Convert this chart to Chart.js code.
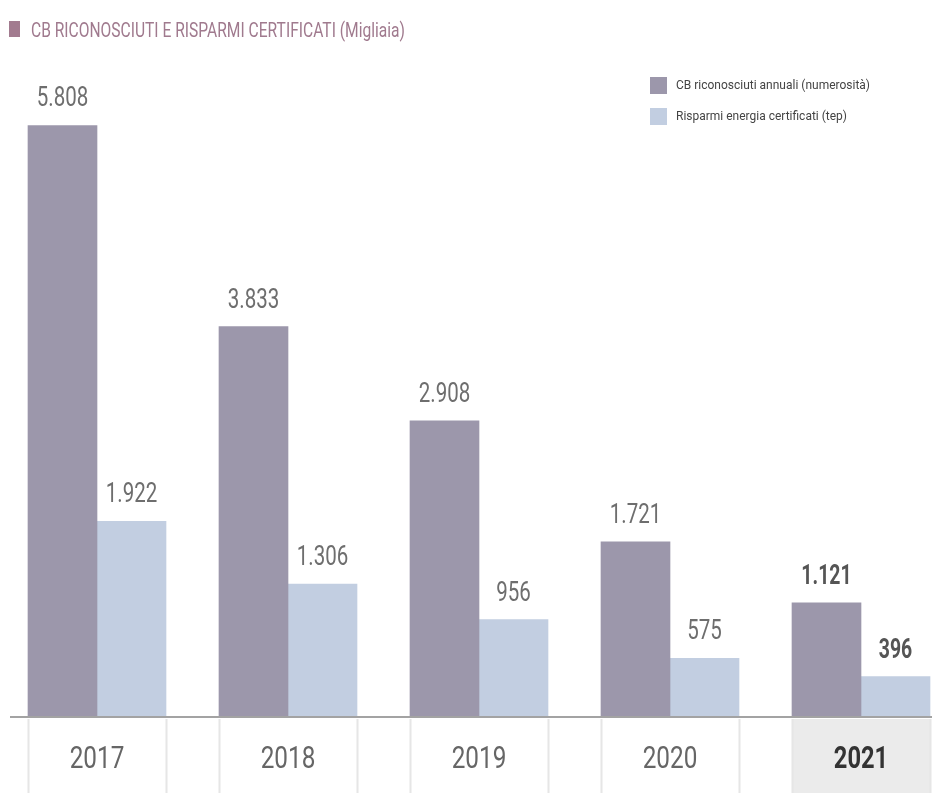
<!DOCTYPE html>
<html>
<head>
<meta charset="utf-8">
<script src="https://cdn.jsdelivr.net/npm/chart.js@4/dist/chart.umd.min.js"></script>
<style>
  html, body { margin: 0; padding: 0; background: #ffffff; overflow: hidden; }
  #wrap { position: relative; width: 932px; height: 793px; }
</style>
</head>
<body>
<div id="wrap"><canvas id="c"></canvas></div>
<script>
// ---- data ----
const titleText = 'CB RICONOSCIUTI E RISPARMI CERTIFICATI (Migliaia)';
const years = ['2017', '2018', '2019', '2020', '2021'];
const seriesNames = ['CB riconosciuti annuali (numerosità)', 'Risparmi energia certificati (tep)'];
const cbRiconosciuti = [5808, 3833, 2908, 1721, 1121];
const risparmiCertificati = [1922, 1306, 956, 575, 396];
const highlightYear = '2021';

// ---- styles ----
const FONT = 'Roboto, "Liberation Sans", sans-serif';
const purple = '#9c97ab';
const blue = '#c2cee1';
const SX = 0.76; // horizontal condensing to mimic a condensed typeface

function fmt(v) {
  const s = String(Math.round(v));
  return s.replace(/\B(?=(\d{3})+(?!\d))/g, '.');
}

// draw text horizontally condensed by sx; align: 'left' | 'center'
function condensed(ctx, text, x, y, sx, align) {
  ctx.save();
  ctx.translate(x, y);
  ctx.scale(sx, 1);
  ctx.textAlign = align;
  ctx.fillText(text, 0, 0);
  ctx.restore();
}

const decorPlugin = {
  id: 'decor',
  beforeDatasetsDraw(chart) {
    const ctx = chart.ctx;
    const x = chart.scales.x;
    const base = chart.chartArea.bottom;
    const half = 69;
    ctx.save();
    years.forEach((y, i) => {
      const cx = x.getPixelForValue(i);
      const l = cx - half, r = cx + half;
      if (y === highlightYear) {
        ctx.fillStyle = '#ebebeb';
        ctx.fillRect(l, base + 2, r - l, chart.height - base - 2);
      }
      ctx.strokeStyle = '#e6e6e6';
      ctx.lineWidth = 2;
      ctx.beginPath();
      ctx.moveTo(l + 0.5, base + 2); ctx.lineTo(l + 0.5, chart.height);
      ctx.moveTo(r + 0.5, base + 2); ctx.lineTo(r + 0.5, chart.height);
      ctx.stroke();
      const bold = y === highlightYear;
      ctx.font = (bold ? 'bold ' : '') + '32px ' + FONT;
      ctx.fillStyle = bold ? '#333333' : '#666666';
      ctx.textBaseline = 'alphabetic';
      condensed(ctx, y, cx, 768, bold ? 0.74 : SX, 'center');
    });
    ctx.restore();
  },
  afterDatasetsDraw(chart) {
    const ctx = chart.ctx;
    const base = chart.chartArea.bottom;
    ctx.save();
    // axis line
    ctx.strokeStyle = '#a3a3a3';
    ctx.lineWidth = 2;
    ctx.beginPath();
    ctx.moveTo(10, base); ctx.lineTo(chart.width, base);
    ctx.stroke();
    // value labels
    chart.data.datasets.forEach((ds, di) => {
      const meta = chart.getDatasetMeta(di);
      meta.data.forEach((el, i) => {
        const bold = years[i] === highlightYear;
        ctx.font = (bold ? 'bold ' : '') + '27px ' + FONT;
        ctx.fillStyle = bold ? '#555555' : '#6e6e6e';
        ctx.textBaseline = 'alphabetic';
        condensed(ctx, fmt(ds.data[i]), el.x, el.y - 19, bold ? 0.72 : SX, 'center');
      });
    });
    // title
    ctx.fillStyle = '#a27b8f';
    ctx.fillRect(9, 21, 11, 16);
    ctx.font = '21px ' + FONT;
    ctx.fillStyle = '#a07a8e';
    ctx.textBaseline = 'alphabetic';
    const tw = ctx.measureText(titleText).width;
    condensed(ctx, titleText, 31, 37, 374 / tw, 'left');
    // legend
    ctx.font = '13px ' + FONT;
    const lw = ctx.measureText(seriesNames[0]).width;
    const lsx = 194 / lw;
    chart.data.datasets.forEach((ds, di) => {
      const y0 = 77 + di * 31;
      ctx.fillStyle = ds.backgroundColor;
      ctx.fillRect(650, y0, 17, 17);
      ctx.fillStyle = '#444444';
      ctx.textBaseline = 'middle';
      condensed(ctx, ds.label, 676, y0 + 9, lsx, 'left');
    });
    ctx.restore();
  }
};

new Chart(document.getElementById('c'), {
  type: 'bar',
  data: {
    labels: years,
    datasets: [
      { label: seriesNames[0], data: cbRiconosciuti, backgroundColor: purple, barThickness: 69, clip: false, borderWidth: 0 },
      { label: seriesNames[1], data: risparmiCertificati, backgroundColor: blue, barThickness: 69, clip: false, borderWidth: 0 }
    ]
  },
  options: {
    responsive: true,
    maintainAspectRatio: false,
    animation: false,
    layout: { padding: { left: 97, right: 71, top: 55, bottom: 76 } },
    plugins: { legend: { display: false }, tooltip: { enabled: false }, title: { display: false } },
    scales: {
      x: { type: 'category', offset: false, display: false, grid: { display: false } },
      y: { min: 0, max: 6500, display: false, grid: { display: false } }
    }
  },
  plugins: [decorPlugin]
});
</script>
</body>
</html>
